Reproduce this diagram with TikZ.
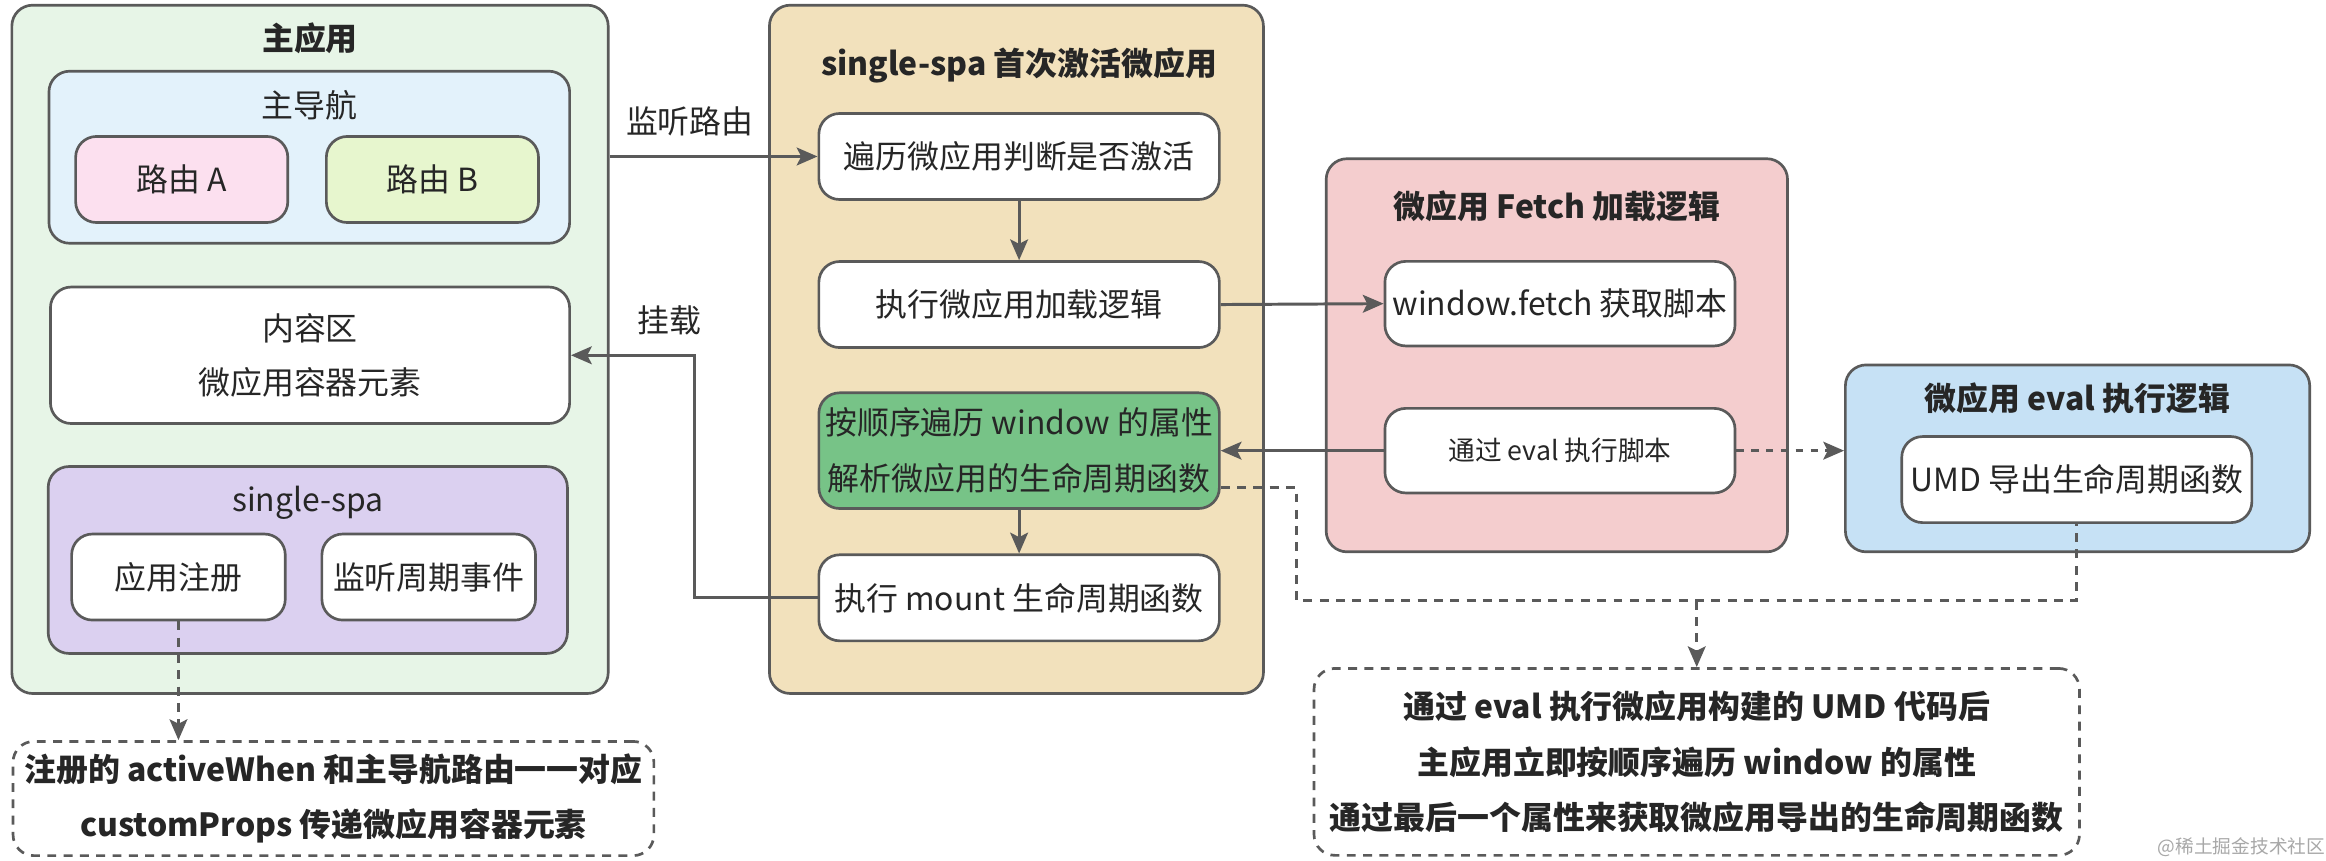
\documentclass[tikz,border=0pt]{standalone}
\usepackage{fontspec}
\setmainfont{Noto Sans CJK SC}
\usetikzlibrary{arrows.meta,calc}
\definecolor{bd}{HTML}{5A5A5A}
\definecolor{txt}{HTML}{262626}
\definecolor{cMain}{HTML}{E7F5E7}
\definecolor{cNav}{HTML}{E3F2FB}
\definecolor{cRA}{HTML}{FCE0EF}
\definecolor{cRB}{HTML}{E7F6CE}
\definecolor{cSpa}{HTML}{DBD0F0}
\definecolor{cOrg}{HTML}{F2E1BC}
\definecolor{cPar}{HTML}{77C387}
\definecolor{cFet}{HTML}{F4CDCE}
\definecolor{cEva}{HTML}{C6E1F5}
\definecolor{wmc}{HTML}{A8A8A8}
\begin{document}
\begin{tikzpicture}[x=1pt,y=-1pt,
  font=\fontsize{21.5pt}{36pt}\selectfont,
  frame/.style={draw=bd, line width=1.8pt, rounded corners=14pt, inner sep=0pt, text=txt},
  sz/.style 2 args={minimum width=#1pt, minimum height=#2pt},
  ttl/.style={font=\fontsize{21.5pt}{36pt}\selectfont\bfseries, text=txt, inner sep=0pt},
  lbl/.style={text=txt, inner sep=0pt},
  note/.style={draw=bd, line width=1.8pt, dash pattern=on 6pt off 5pt, rounded corners=14pt, inner sep=0pt, text=txt, align=center},
  tip/.style={-{Stealth[length=14pt,width=12pt,inset=3pt]}},
  conn/.style={draw=bd, line width=2pt, tip},
  dconn/.style={draw=bd, line width=2pt, dash pattern=on 6pt off 5pt},
]
\path[fill=white] (0,0) rectangle (1568,580);
\useasboundingbox (0,0) rectangle (1568,580);

% main application
\node[frame, fill=cMain, sz={402}{464}] (main) at (209,235.5) {};
\node[ttl] (mainT) at (209,26) {主应用};
\node[frame, fill=cNav, sz={351}{116}] (nav) at (208.5,106) {};
\node[lbl] (navT) at (208.5,71) {主导航};
\node[frame, fill=cRA, sz={143}{58}] (ra) at (122.5,121) {路由 A};
\node[frame, fill=cRB, sz={143}{58}] (rb) at (291.5,121) {路由 B};
\node[frame, fill=white, sz={350}{92}, align=center] (content) at (209,239.5) {内容区\\微应用容器元素};
\node[frame, fill=cSpa, sz={350}{126}] (spa) at (207.5,377.5) {};
\node[lbl] (spaT) at (207.5,339) {single-spa};
\node[frame, fill=white, sz={144}{58}] (reg) at (120.3,389) {应用注册};
\node[frame, fill=white, sz={144}{58}] (lis) at (289,389) {监听周期事件};
\node[note, sz={432}{77}, font=\fontsize{21.5pt}{37pt}\selectfont\bfseries] (note1) at (224.8,538.3) {注册的 activeWhen 和主导航路由一一对应\\customProps 传递微应用容器元素};

% single-spa first activation
\node[frame, fill=cOrg, sz={333}{464}] (org) at (685.2,235.5) {};
\node[ttl] (orgT) at (687,44) {single-spa 首次激活微应用};
\node[frame, fill=white, sz={270}{58}] (trav) at (687,105.5) {遍历微应用判断是否激活};
\node[frame, fill=white, sz={270}{58}] (load) at (687,205.3) {执行微应用加载逻辑};
\node[frame, fill=cPar, sz={270}{78}, align=center, font=\fontsize{21.5pt}{38pt}\selectfont] (parse) at (687,303.8) {按顺序遍历 window 的属性\\解析微应用的生命周期函数};
\node[frame, fill=white, sz={270}{58}] (mount) at (687,403) {执行 mount 生命周期函数};

% fetch logic
\node[frame, fill=cFet, sz={311}{265}] (fet) at (1049.5,239.5) {};
\node[ttl] (fetT) at (1049.5,139) {微应用 Fetch 加载逻辑};
\node[frame, fill=white, sz={236}{57}] (wf) at (1051.6,204.7) {window.fetch 获取脚本};
\node[frame, fill=white, sz={236}{57}, font=\fontsize{18pt}{24pt}\selectfont] (ev) at (1051.6,303.8) {通过 eval 执行脚本};

% eval logic
\node[frame, fill=cEva, sz={313}{126}] (eva) at (1400.5,309) {};
\node[ttl] (evaT) at (1400.5,268.5) {微应用 eval 执行逻辑};
\node[frame, fill=white, sz={236}{58}] (umd) at (1400,323.3) {UMD 导出生命周期函数};

% bottom right note
\node[note, sz={516}{126}, font=\fontsize{21.5pt}{37.7pt}\selectfont\bfseries] (note2) at (1143.8,513.6) {通过 eval 执行微应用构建的 UMD 代码后\\主应用立即按顺序遍历 window 的属性\\通过最后一个属性来获取微应用导出的生命周期函数};

% labels
\node[lbl] (lab1) at (465,82) {监听路由};
\node[lbl] (lab2) at (451,216) {挂载};
\node[text=wmc, inner sep=0pt, font=\fontsize{12.6pt}{14pt}\selectfont] (wm) at (1511,571) {@稀土掘金技术社区};

% connectors
\coordinate (mk) at (468,403);
\coordinate (bj) at (874,405);
\draw[conn] (main.east |- trav.west) -- (trav.west);
\draw[conn] (trav.south) -- (load.north);
\draw[conn] (load.east) -- (wf.west);
\draw[conn] (ev.west) -- (parse.east |- ev.west);
\draw[conn] (parse.south) -- (mount.north);
\draw[conn] (mount.west) -- (mk) |- (content.east);
\draw[dconn, dash pattern=on 5pt off 5pt, tip] (ev.east) -- (eva.west |- ev.east);
\draw[dconn] ($(parse.east)+(0,25)$) -| (bj) -- (bj -| umd.south) -- (umd.south);
\draw[dconn, tip] (note2.north |- bj) -- (note2.north);
\draw[dconn, tip] (reg.south) -- (reg.south |- note1.north);
\end{tikzpicture}
\end{document}
